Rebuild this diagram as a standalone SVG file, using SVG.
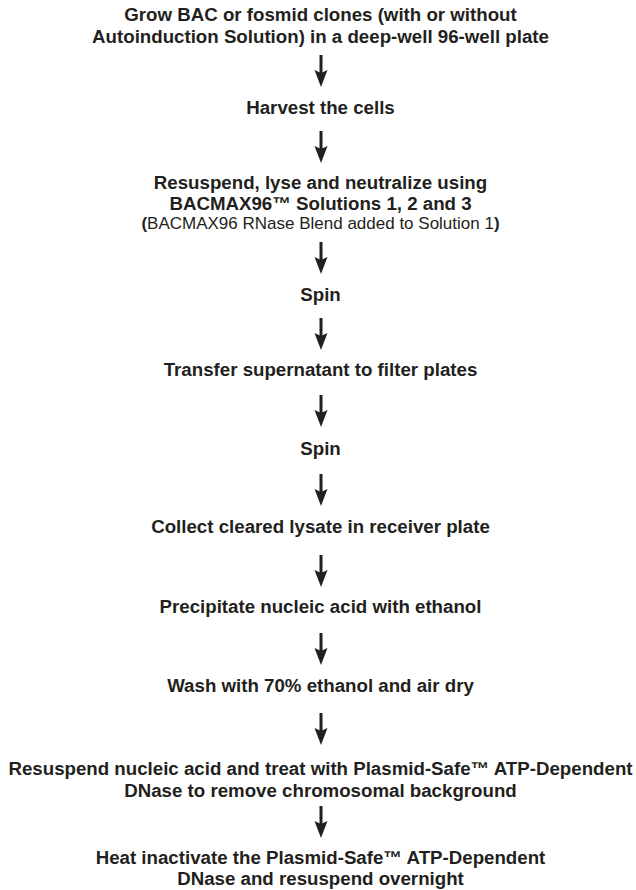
<svg xmlns="http://www.w3.org/2000/svg" width="636" height="890" viewBox="0 0 636 890">
<style>
text{font-family:"Liberation Sans",Arial,Helvetica,sans-serif;fill:#231f20;text-anchor:middle}
.b{font-weight:bold;font-size:18.7px}
.r{font-weight:normal;font-size:17px}
.shaft{stroke:#231f20;stroke-width:3;fill:none}
.head{fill:#231f20}
</style>
<defs>
<g id="arrow">
<line class="shaft" x1="0" y1="0" x2="0" y2="18"/>
<polygon class="head" points="0,32 -6.5,15 0,18 6.5,15"/>
</g>
</defs>
<rect width="636" height="890" fill="#ffffff"/>
<g id="connectors">
<use href="#arrow" x="321" y="55"/>
<use href="#arrow" x="321" y="131"/>
<use href="#arrow" x="321" y="242"/>
<use href="#arrow" x="321" y="318"/>
<use href="#arrow" x="321" y="395"/>
<use href="#arrow" x="321" y="474"/>
<use href="#arrow" x="321" y="555"/>
<use href="#arrow" x="321" y="633"/>
<use href="#arrow" x="321" y="713"/>
<use href="#arrow" x="321" y="806"/>
</g>
<g id="n1"><text class="b" x="320.5" y="21">Grow BAC or fosmid clones (with or without</text><text class="b" x="320.5" y="43">Autoinduction Solution) in a deep-well 96-well plate</text></g>
<g id="n2"><text class="b" x="320.5" y="114">Harvest the cells</text></g>
<g id="n3"><text class="b" x="320.5" y="189">Resuspend, lyse and neutralize using</text><text class="b" x="320.5" y="209.5">BACMAX96™ Solutions 1, 2 and 3</text><text class="r" x="320.5" y="229"><tspan font-weight="bold">(</tspan>BACMAX96 RNase Blend added to Solution 1<tspan font-weight="bold">)</tspan></text></g>
<g id="n4"><text class="b" x="320.5" y="301">Spin</text></g>
<g id="n5"><text class="b" x="320.5" y="376">Transfer supernatant to filter plates</text></g>
<g id="n6"><text class="b" x="320.5" y="455">Spin</text></g>
<g id="n7"><text class="b" x="320.5" y="533">Collect cleared lysate in receiver plate</text></g>
<g id="n8"><text class="b" x="320.5" y="613">Precipitate nucleic acid with ethanol</text></g>
<g id="n9"><text class="b" x="320.5" y="692">Wash with 70% ethanol and air dry</text></g>
<g id="n10"><text class="b" x="320.5" y="775">Resuspend nucleic acid and treat with Plasmid-Safe™ ATP-Dependent</text><text class="b" x="320.5" y="797">DNase to remove chromosomal background</text></g>
<g id="n11"><text class="b" x="320.5" y="864">Heat inactivate the Plasmid-Safe™ ATP-Dependent</text><text class="b" x="320.5" y="885">DNase and resuspend overnight</text></g>
</svg>
